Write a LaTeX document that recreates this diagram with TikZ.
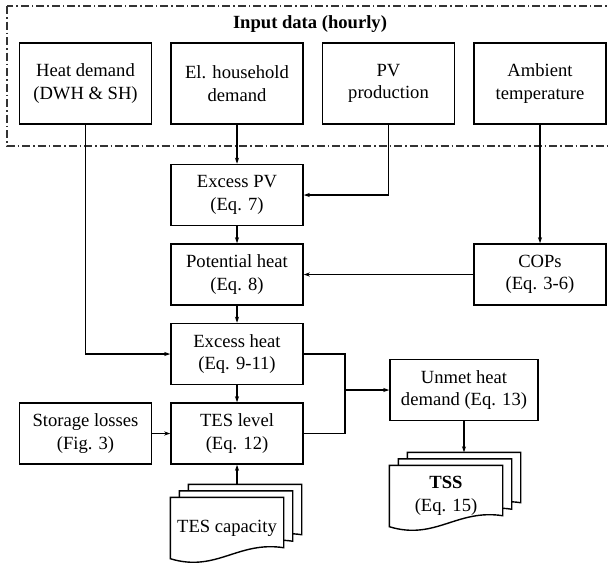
\documentclass[tikz,border=0pt]{standalone}
\usepackage{fontspec}
\setmainfont{Liberation Serif}
\usepackage{tikz}
\usetikzlibrary{arrows.meta,positioning}

\tikzset{
  box/.style = {draw, line width=1.5pt, minimum width=132pt, minimum height=61pt,
                align=center, inner sep=2pt},
  inbox/.style = {box, minimum height=81pt},
  docbox/.style = {minimum width=113pt, minimum height=61pt, align=center, inner sep=0pt},
  link/.style = {line width=1.3pt}
}

% three stacked document outlines behind a docbox node
\newcommand{\docstack}[1]{%
  \foreach \s in {2,1,0}{
    \draw[line width=1.4pt, fill=white]
      ([xshift=9*\s pt, yshift=6.5*\s pt]#1.north west)
      -- ([xshift=9*\s pt, yshift=6.5*\s pt]#1.north east)
      -- ([xshift=9*\s pt, yshift=6.5*\s pt+11pt]#1.south east)
      .. controls +(-46pt,7pt) and +(46pt,-14pt) ..
      ([xshift=9*\s pt, yshift=6.5*\s pt]#1.south west) -- cycle;
  }
}

\begin{document}
\begin{tikzpicture}[x=1pt, y=-1pt, node distance=18pt, >={Stealth[length=6pt,width=4pt]},
  font=\fontsize{18.6}{22.5}\selectfont]
\useasboundingbox (0,0) rectangle (610,563);

% input data
\draw[gray!40!black, line width=1.2pt, dash pattern=on 8pt off 3pt on 1.5pt off 3pt]
  (7,6) rectangle (614,146);
\node[font=\fontsize{18.6}{22.5}\selectfont\bfseries] (title) at (310,24) {Input data (hourly)};

\node[inbox] (heatdem) at (85.5,83.5) {Heat demand\\(DWH \& SH)};
\node[inbox] (eldem) [right=of heatdem] {El. household\\demand};
\node[inbox] (pvprod) [right=of eldem] {PV\\production};
\node[inbox] (ambtemp) [right=of pvprod] {Ambient\\temperature};

% calculation steps
\node[box] (excesspv) [below=39pt of eldem] {Excess PV\\(Eq. 7)};
\node[box] (potheat) [below=17pt of excesspv] {Potential heat\\(Eq. 8)};
\node[box] (excheat) [below=17pt of potheat] {Excess heat\\(Eq. 9-11)};
\node[box] (teslevel) [below=17pt of excheat] {TES level\\(Eq. 12)};
\node[box] (storloss) [left=of teslevel] {Storage losses\\(Fig. 3)};
\node[box] (cops) at (ambtemp |- potheat) {COPs\\(Eq. 3-6)};
\node[box, minimum width=148pt] (unmet) at (464,390) {Unmet heat\\demand (Eq. 13)};

% outputs
\node[docbox] (tss) at (446,496) {};
\node[docbox] (tescap) at (227,528) {};
\docstack{tss}
\docstack{tescap}
\node[align=center] (tsslabel) at (tss) {\textbf{TSS}\\(Eq. 15)};
\node (tescaplabel) at (tescap) {TES capacity};

\coordinate (tsstop) at ([yshift=13pt]tss.north);
\coordinate (captop) at ([yshift=13pt]tescap.north);
\coordinate (junc) at (345,390);

\draw[link,->] (heatdem) |- (excheat);
\draw[link,->] (eldem) -- (excesspv);
\draw[link,->] (pvprod) |- (excesspv);
\draw[link,->] (ambtemp) -- (cops);
\draw[link,->] (cops) -- (potheat);
\draw[link,->] (excesspv) -- (potheat);
\draw[link,->] (potheat) -- (excheat);
\draw[link,->] (excheat) -- (teslevel);
\draw[link,->] (storloss) -- (teslevel);
\draw[link] (excheat) -| (junc) |- (teslevel);
\draw[link,->] (junc) -- (unmet);
\draw[link,->] (unmet) -- (unmet |- tsstop);
\draw[link,->] (teslevel |- captop) -- (teslevel);
\end{tikzpicture}
\end{document}
